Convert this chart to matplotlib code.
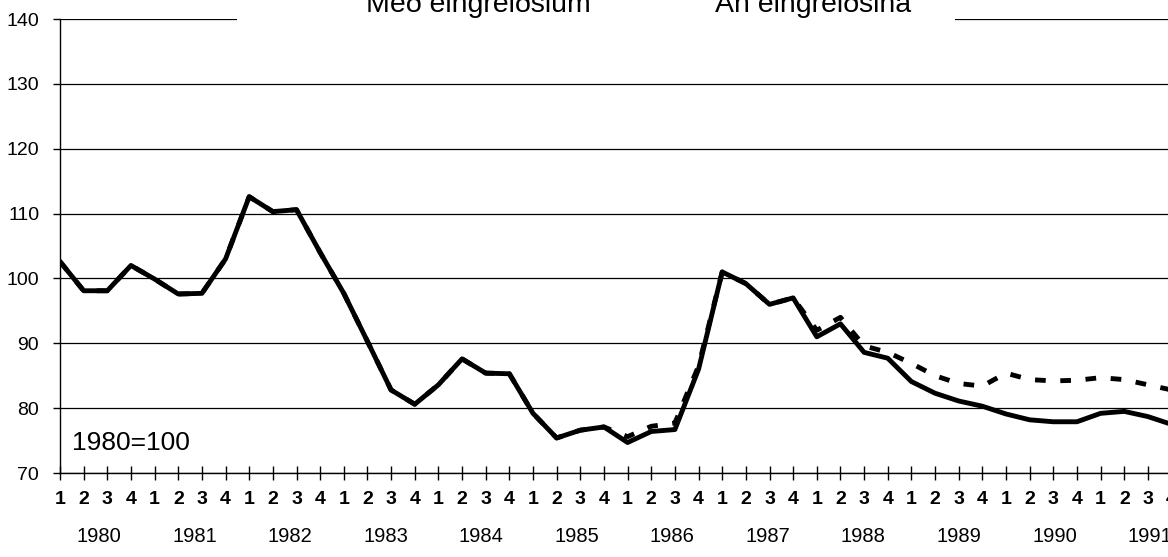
import matplotlib
matplotlib.use('Agg')
import matplotlib.pyplot as plt
from matplotlib.patches import Rectangle

plt.rcParams['font.family'] = ['Liberation Sans', 'DejaVu Sans']

years = list(range(1980, 1992))
quarter_labels = ['1', '2', '3', '4']

med_eingreidslum = [
    102.6, 98.1, 98.1, 102.0, 99.9, 97.6, 97.7, 103.0,
    112.6, 110.3, 110.6, 104.0, 97.7, 90.3, 82.8, 80.6,
    83.6, 87.6, 85.4, 85.3, 79.2, 75.4, 76.6, 77.1,
    74.7, 76.4, 76.7, 86.0, 101.0, 99.2, 96.0, 97.0,
    91.0, 93.0, 88.6, 87.7, 84.1, 82.3, 81.1, 80.3,
    79.1, 78.2, 77.9, 77.9, 79.2, 79.5, 78.7, 77.5,
]
an_eingreidslna = [
    102.6, 98.1, 98.1, 102.0, 99.9, 97.6, 97.7, 103.0,
    112.6, 110.3, 110.6, 104.0, 97.7, 90.3, 82.8, 80.6,
    83.6, 87.6, 85.4, 85.3, 79.2, 75.4, 76.6, 77.1,
    75.6, 77.2, 77.7, 86.5, 101.0, 99.2, 96.0, 97.0,
    92.0, 94.0, 89.6, 88.6, 86.9, 85.0, 83.8, 83.4,
    85.4, 84.4, 84.2, 84.3, 84.7, 84.4, 83.6, 82.8,
]
legend_labels = ['Með eingreiðslum', 'Án eingreiðslna']
base_label = '1980=100'

W, H = 1168, 557
fig = plt.figure(figsize=(W / 100, H / 100), dpi=100)
ax = fig.add_axes([60 / W, 84 / H, 1130 / W, 454 / H])

n = len(med_eingreidslum)
x = list(range(n))
ax.plot(x, an_eingreidslna, color='black', lw=3.5, linestyle=(0, (2.2, 3.0)),
        dash_capstyle='butt', zorder=3)
ax.plot(x, med_eingreidslum, color='black', lw=3.5, zorder=4)

ax.set_xlim(0, 1130 / 23.65)
ax.set_ylim(70, 140)
ax.set_yticks(range(70, 141, 10))
ax.yaxis.grid(True, color='black', lw=0.9)
ax.set_axisbelow(True)
for s in ['top', 'right']:
    ax.spines[s].set_visible(False)
ax.spines['left'].set_linewidth(1.0)
ax.spines['bottom'].set_linewidth(1.0)

ax.set_xticks(x)
ax.set_xticklabels([quarter_labels[i % 4] for i in x], fontsize=14, fontweight='bold')
ax.tick_params(axis='x', direction='inout', length=10, width=1.0, pad=8)
ax.tick_params(axis='y', direction='out', length=5, width=1.0, pad=10, labelsize=14)

for k, yr in enumerate(years):
    ax.text(4 * k + 1.65 + 0.04 * k, -64 / 454, str(yr), transform=ax.get_xaxis_transform(),
            ha='center', va='center', fontsize=14.5)

ax.text(12 / 1130, 23 / 454, base_label, transform=ax.transAxes, ha='left',
        va='baseline', fontsize=19)

fig.add_artist(Rectangle((237 / W, 1 - 32 / H), (955 - 237) / W, 32 / H,
                         transform=fig.transFigure, facecolor='white',
                         edgecolor='none', zorder=5))
fig.text(478 / W, 1 - 12 / H, legend_labels[0], ha='center', va='baseline',
         fontsize=20.5, zorder=6)
fig.text(813 / W, 1 - 12 / H, legend_labels[1], ha='center', va='baseline',
         fontsize=20.5, zorder=6)

fig.savefig('out.png', dpi=100)
